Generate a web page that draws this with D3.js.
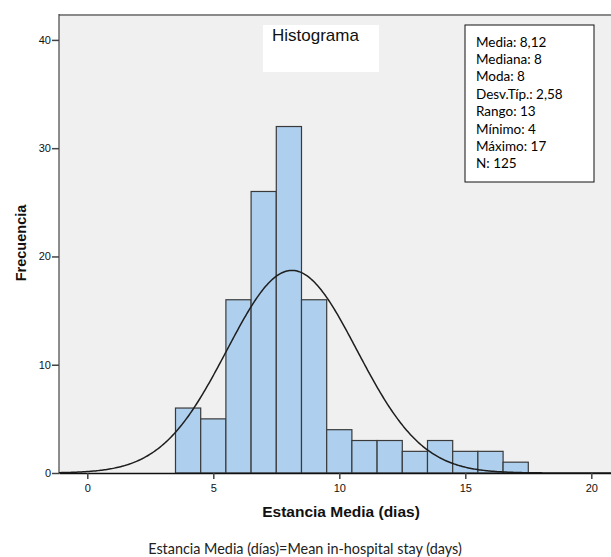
<!DOCTYPE html>
<html>
<head>
<meta charset="utf-8">
<script src="https://cdn.jsdelivr.net/npm/d3@7"></script>
<style>
  body { margin: 0; background: #fff; }
  svg { display: block; }
</style>
</head>
<body>
<svg id="drawSpace" width="611" height="557"></svg>
<script>
// Histogram bins (centre of each 1-day bin) and frequencies
let binCentres = [4, 5, 6, 7, 8, 9, 10, 11, 12, 13, 14, 15, 16, 17]
let frequencies = [6, 5, 16, 26, 32, 16, 4, 3, 3, 2, 3, 2, 2, 1]

// Summary stats shown in the box
let statLabels = ["Media: 8,12", "Mediana: 8", "Moda: 8", "Desv.Típ.: 2,58",
                  "Rango: 13", "Mínimo: 4", "Máximo: 17", "N: 125"]
let meanValue = 8.12
let sdValue = 2.58

let xTicks = [0, 5, 10, 15, 20]
let yTicks = [0, 10, 20, 30, 40]

// Layout
let plotL = 59, plotR = 611, plotT = 15, plotB = 473
let barColor = "#aed0ee"

let svg = d3.select("#drawSpace")

let x = d3.scaleLinear().domain([-1.123, 20.782]).range([plotL, plotR])
let y = d3.scaleLinear().domain([0, 42.3]).range([plotB, plotT])

// plot background + frame
svg.append("rect")
    .attr("x", plotL).attr("y", plotT)
    .attr("width", plotR - plotL).attr("height", plotB - plotT)
    .attr("fill", "#f0f0f0")
svg.append("line")
    .attr("x1", plotL).attr("x2", plotR)
    .attr("y1", plotT).attr("y2", plotT)
    .attr("stroke", "#8a8a8a").attr("stroke-width", 2)
svg.append("line")
    .attr("x1", plotL).attr("x2", plotL)
    .attr("y1", plotT - 1).attr("y2", plotB)
    .attr("stroke", "#444").attr("stroke-width", 1.2)

// bars
svg.append("g")
    .selectAll("rect")
    .data(binCentres)
    .enter()
    .append("rect")
    .attr("x", d => x(d - 0.5))
    .attr("width", d => x(d + 0.5) - x(d - 0.5))
    .attr("y", (d, i) => y(frequencies[i]))
    .attr("height", (d, i) => y(0) - y(frequencies[i]))
    .attr("fill", barColor)
    .attr("stroke", "#3a3a3a")
    .attr("stroke-width", 1.2)

// normal curve scaled to the counts drawn (bin width 1)
let total = d3.sum(frequencies)
let curvePts = d3.range(x.domain()[0], x.domain()[1] + 0.05, 0.05).map(v =>
    [v, total / (sdValue * Math.sqrt(2 * Math.PI)) *
        Math.exp(-0.5 * Math.pow((v - meanValue) / sdValue, 2))])
svg.append("path")
    .datum(curvePts)
    .attr("d", d3.line().x(d => x(d[0])).y(d => y(d[1])))
    .attr("fill", "none")
    .attr("stroke", "#1e1e1e")
    .attr("stroke-width", 1.5)

// axes
let xAxis = svg.append("g")
    .attr("transform", `translate(0,${plotB})`)
    .call(d3.axisBottom(x).tickValues(xTicks).tickSize(6).tickPadding(5).tickSizeOuter(0))
xAxis.select(".domain").attr("stroke", "#111").attr("stroke-width", 1.5)
xAxis.selectAll(".tick line").attr("stroke", "#444").attr("stroke-width", 1.5)
xAxis.selectAll("text").attr("font-family", "Liberation Sans, Arial").attr("font-size", 11).attr("fill", "#111")

let yAxis = svg.append("g")
    .attr("transform", `translate(${plotL},0)`)
    .call(d3.axisLeft(y).tickValues(yTicks).tickSize(7).tickPadding(1).tickSizeOuter(0))
yAxis.select(".domain").remove()
yAxis.selectAll(".tick line").attr("stroke", "#444").attr("stroke-width", 1.5)
yAxis.selectAll("text").attr("font-family", "Liberation Sans, Arial").attr("font-size", 11).attr("fill", "#111")

// axis titles
svg.append("text")
    .attr("x", 341).attr("y", 517)
    .attr("text-anchor", "middle")
    .attr("font-family", "Liberation Sans, Arial")
    .attr("font-weight", "bold")
    .attr("font-size", 15.5)
    .attr("fill", "#111")
    .text("Estancia Media (dias)")

svg.append("text")
    .attr("transform", "translate(26,243) rotate(-90)")
    .attr("text-anchor", "middle")
    .attr("font-family", "Liberation Sans, Arial")
    .attr("font-weight", "bold")
    .attr("font-size", 14.5)
    .attr("fill", "#111")
    .text("Frecuencia")

// title box
svg.append("rect")
    .attr("x", 263).attr("y", 25).attr("width", 116).attr("height", 47)
    .attr("fill", "#fff")
svg.append("text")
    .attr("x", 272).attr("y", 40.5)
    .attr("font-family", "Liberation Sans, Arial")
    .attr("font-size", 17)
    .attr("fill", "#111")
    .text("Histograma")

// stats box
svg.append("rect")
    .attr("x", 465).attr("y", 25).attr("width", 129).attr("height", 157)
    .attr("fill", "#fff").attr("stroke", "#111").attr("stroke-width", 1)
svg.append("g")
    .selectAll("text")
    .data(statLabels)
    .enter()
    .append("text")
    .attr("x", 476)
    .attr("y", (d, i) => 46.5 + i * 17.4)
    .attr("font-family", "Lato")
    .attr("font-size", 13.5)
    .attr("fill", "#000")
    .text(d => d)

// caption
svg.append("text")
    .attr("x", 305).attr("y", 554)
    .attr("text-anchor", "middle")
    .attr("font-family", "Lato")
    .attr("font-size", 14.4)
    .attr("fill", "#222")
    .text("Estancia Media (días)=Mean in-hospital stay (days)")
</script>
</body>
</html>
